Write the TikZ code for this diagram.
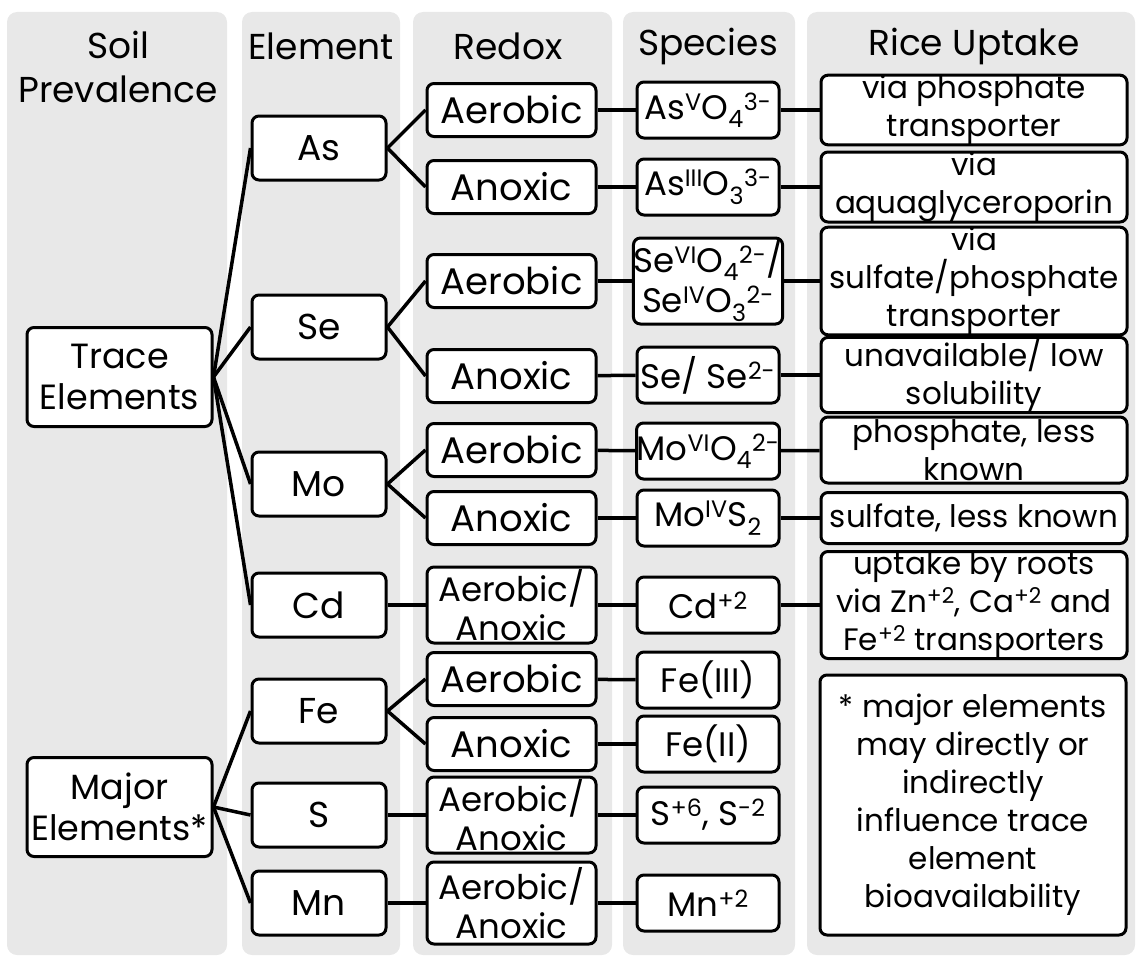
\documentclass[tikz,border=0pt]{standalone}
\usepackage{fontspec}
\setmainfont{Poppins}
\definecolor{colbg}{HTML}{E8E8E8}
\tikzset{
  colbg/.style={fill=colbg, draw=none, rounded corners=10pt},
  hdr/.style={font=\fontsize{36}{44}\selectfont, align=center, inner sep=0pt},
  bx/.style={draw, line width=3pt, rounded corners=7pt, fill=white, align=center, inner sep=0pt, font=\fontsize{35}{40}\selectfont},
  elem/.style={bx, minimum width=134pt, minimum height=64pt, font=\fontsize{36}{40}\selectfont},
  prev/.style={bx, minimum width=185pt, minimum height=99pt, font=\fontsize{35}{41}\selectfont},
  redox/.style={bx, minimum width=169pt, minimum height=53pt, font=\fontsize{37}{40}\selectfont},
  redox2/.style={bx, minimum width=169pt, minimum height=76pt, font=\fontsize{34}{39}\selectfont},
  spec/.style={bx, minimum width=142pt, minimum height=56pt, font=\fontsize{34}{40}\selectfont},
  upt/.style={bx, minimum width=306pt, font=\fontsize{31}{38}\selectfont},
  conn/.style={line width=3.5pt},
}
\begin{document}
\begin{tikzpicture}[x=1pt,y=-1pt]
\useasboundingbox (0,0) rectangle (1139,958);
% column backgrounds
\fill[colbg] (7,12) rectangle (227,955);
\fill[colbg] (242,12) rectangle (400,955);
\fill[colbg] (413,12) rectangle (612,955);
\fill[colbg] (623,12) rectangle (795,955);
\fill[colbg] (807,12) rectangle (1135,955);
% headers
\node[hdr] (h1) at (118,67) {Soil\\Prevalence};
\node[hdr] (h2) at (321,46) {Element};
\node[hdr] (h3) at (508,46) {Redox};
\node[hdr] (h4) at (708,46) {Species};
\node[hdr] (h5) at (974,46) {Rice Uptake};
% soil prevalence
\node[prev] (trace) at (119.5,377) {Trace\\Elements};
\node[prev] (major) at (119.5,807) {Major\\Elements*};
% elements
\node[elem] (as) at (319,148) {As};
\node[elem] (se) at (319,327) {Se};
\node[elem] (mo) at (319,484) {Mo};
\node[elem] (cd) at (319,605) {Cd};
\node[elem] (fe) at (319,711) {Fe};
\node[elem] (s) at (319,815) {S};
\node[elem] (mn) at (319,903) {Mn};
% redox
\node[redox] (asA) at (511.5,110) {Aerobic};
\node[redox] (asN) at (511.5,187) {Anoxic};
\node[redox] (seA) at (511.5,281) {Aerobic};
\node[redox] (seN) at (511.5,376) {Anoxic};
\node[redox] (moA) at (511.5,450) {Aerobic};
\node[redox] (moN) at (511.5,518) {Anoxic};
\node[redox2] (cdR) at (511.5,605) {Aerobic/\\Anoxic};
\node[redox] (feA) at (511.5,679) {Aerobic};
\node[redox] (feN) at (511.5,744) {Anoxic};
\node[redox2] (sR) at (511.5,815) {Aerobic/\\Anoxic};
\node[redox2,minimum height=82pt] (mnR) at (511.5,903) {Aerobic/\\Anoxic};
% species
\node[spec] (asAs) at (708,110) {As\textsuperscript{V}O\textsubscript{4}\textsuperscript{3-}};
\node[spec] (asNs) at (708,187) {As\textsuperscript{III}O\textsubscript{3}\textsuperscript{3-}};
\node[spec,minimum height=86pt] (seAs) at (708,281) {Se\textsuperscript{VI}O\textsubscript{4}\textsuperscript{2-}/\\Se\textsuperscript{IV}O\textsubscript{3}\textsuperscript{2-}};
\node[spec] (seNs) at (708,375) {Se/ Se\textsuperscript{2-}};
\node[spec] (moAs) at (708,451) {Mo\textsuperscript{VI}O\textsubscript{4}\textsuperscript{2-}};
\node[spec] (moNs) at (708,518) {Mo\textsuperscript{IV}S\textsubscript{2}};
\node[spec] (cdS) at (708,605) {Cd\textsuperscript{+2}};
\node[spec] (feAs) at (708,680) {Fe(III)};
\node[spec] (feNs) at (708,744) {Fe(II)};
\node[spec] (sS) at (708,815) {S\textsuperscript{+6}, S\textsuperscript{-2}};
\node[spec] (mnS) at (708,903) {Mn\textsuperscript{+2}};
% uptake
\node[upt,minimum height=69pt] (u1) at (974,110) {via phosphate\\transporter};
\node[upt,minimum height=70pt] (u2) at (974,187) {via\\aquaglyceroporin};
\node[upt,minimum height=104pt] (u3) at (974,281) {via\\sulfate/phosphate\\transporter};
\node[upt,minimum height=69pt] (u4) at (974,375) {unavailable/ low\\solubility};
\node[upt,minimum height=66pt] (u5) at (974,450) {phosphate, less\\known};
\node[upt,minimum height=51pt] (u6) at (974,518) {sulfate, less known};
\node[upt,minimum height=101pt] (u7) at (974,605) {uptake by roots\\via Zn\textsuperscript{+2}, Ca\textsuperscript{+2} and\\Fe\textsuperscript{+2} transporters};
\node[upt,minimum height=260pt] (note) at (973,805) {* major elements\\may directly or\\indirectly\\influence trace\\element\\bioavailability};
% connectors
\foreach \e in {as,se,mo,cd} \draw[conn] (trace.east) -- (\e.west);
\foreach \e in {fe,s,mn} \draw[conn] (major.east) -- (\e.west);
\draw[conn] (as.east) -- (asA.west); \draw[conn] (as.east) -- (asN.west);
\draw[conn] (se.east) -- (seA.west); \draw[conn] (se.east) -- (seN.west);
\draw[conn] (mo.east) -- (moA.west); \draw[conn] (mo.east) -- (moN.west);
\draw[conn] (fe.east) -- (feA.west); \draw[conn] (fe.east) -- (feN.west);
\draw[conn] (cd.east) -- (cdR.west);
\draw[conn] (s.east) -- (sR.west);
\draw[conn] (mn.east) -- (mnR.west);
\draw[conn] (asA) -- (asAs); \draw[conn] (asN) -- (asNs);
\draw[conn] (seA) -- (seAs); \draw[conn] (seN) -- (seNs);
\draw[conn] (moA) -- (moAs); \draw[conn] (moN) -- (moNs);
\draw[conn] (cdR) -- (cdS);
\draw[conn] (feA) -- (feAs); \draw[conn] (feN) -- (feNs);
\draw[conn] (sR) -- (sS); \draw[conn] (mnR) -- (mnS);
\draw[conn] (asAs) -- (u1); \draw[conn] (asNs) -- (u2);
\draw[conn] (seAs) -- (u3); \draw[conn] (seNs) -- (u4);
\draw[conn] (moAs) -- (u5); \draw[conn] (moNs) -- (u6);
\draw[conn] (cdS) -- (u7);
\end{tikzpicture}
\end{document}
